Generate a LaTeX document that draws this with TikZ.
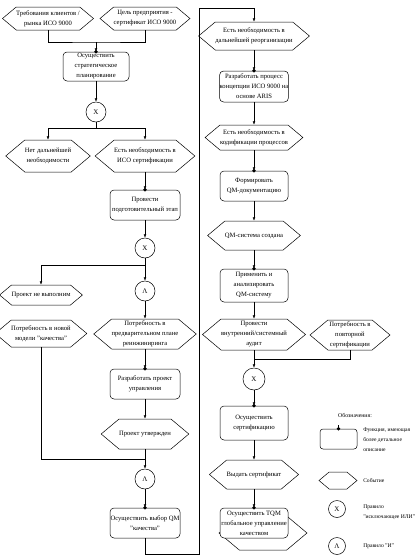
\documentclass[tikz,border=0pt]{standalone}
\usepackage{fontspec}
\setmainfont{Liberation Serif}
\usetikzlibrary{shapes.symbols,arrows.meta}
\begin{document}
\begin{tikzpicture}[x=1pt,y=-1pt,line width=0.5pt,
  every node/.style={font=\fontsize{6.6}{10}\selectfont, align=center, inner sep=0pt},
  func/.style={draw, rounded corners=4pt, fill=white},
  event/.style={draw, signal, signal to=east and west, signal pointer angle=80, fill=white},
  rule/.style={draw, circle, minimum size=20pt, font=\fontsize{7}{8}\selectfont},
  legtext/.style={anchor=west, align=left, font=\fontsize{5.6}{10}\selectfont},
  arr/.style={-{Latex[length=3.5pt,width=2.8pt]}}]
\useasboundingbox (0,0) rectangle (420,560);
% left column
\node[event, minimum width=80pt, minimum height=23pt] (e1) at (48,18.5) {Требования клиентов /\\рынка ИСО 9000};
\node[event, minimum width=82pt, minimum height=23pt] (e2) at (145,18.5) {Цель предприятия -\\сертификат ИСО 9000};
\node[func, minimum width=66pt, minimum height=29pt] (f1) at (96,66.5) {Осуществить\\стратегическое\\планирование};
\node[rule] (x1) at (96,112) {X};
\node[event, minimum width=80pt, minimum height=32pt] (e3) at (48,156) {Нет дальнейшей\\необходимости};
\node[event, minimum width=82pt, minimum height=32pt] (e4) at (145,156) {Есть необходимость в\\ИСО сертификации};
\node[func, minimum width=70pt, minimum height=30pt] (f2) at (145,205) {Провести\\подготовительный этап};
\node[rule] (x2) at (145,248) {X};
\node[event, minimum width=78pt, minimum height=20pt] (e5) at (41,295) {Проект не выполним};
\node[rule] (a1) at (145,291) {Λ};
\node[event, minimum width=78pt, minimum height=27pt] (e6) at (41,333.5) {Потребность в новой\\модели "качества"};
\node[event, minimum width=80pt, minimum height=30pt] (e7) at (145,334) {Потребность в\\предварительном плане\\реинжиниринга};
\node[func, minimum width=70pt, minimum height=30pt] (f3) at (145,384) {Разработать проект\\управления};
\node[event, minimum width=80pt, minimum height=30pt] (e8) at (145,434) {Проект утвержден};
\node[rule] (a2) at (145,479) {Λ};
\node[func, minimum width=70pt, minimum height=30pt] (f4) at (145,523) {Осуществить выбор QM\\"качества"};
% right column
\node[event, minimum width=78pt, minimum height=28pt] (r1) at (254,36) {Есть необходимость в\\дальнейшей реорганизации};
\node[func, minimum width=68pt, minimum height=31pt] (g1) at (254,86.5) {Разработать процесс\\концепции ИСО 9000 на\\основе ARIS};
\node[event, minimum width=78pt, minimum height=25pt] (r2) at (254,137.5) {Есть необходимость в\\кодификации процессов};
\node[func, minimum width=68pt, minimum height=30pt] (g2) at (254,186) {Формировать\\QM-документацию};
\node[event, minimum width=78pt, minimum height=29pt] (r3) at (254,235.5) {QM-система создана};
\node[func, minimum width=68pt, minimum height=33pt] (g3) at (254,285.5) {Применить и\\анализировать\\QM-систему};
\node[event, minimum width=78pt, minimum height=31pt] (r4) at (254,334.5) {Провести\\внутренний/системный\\аудит};
\node[event, minimum width=80pt, minimum height=30pt] (r5) at (350,335) {Потребность в\\повторной\\сертификации};
\node[rule, minimum size=22pt] (xr) at (254,379) {X};
\node[func, minimum width=68pt, minimum height=34pt] (g4) at (254,423) {Осуществить\\сертификацию};
\node[event, minimum width=78pt, minimum height=29pt] (r6) at (254,474.5) {Выдать сертификат};
\node[event, minimum width=88pt, minimum height=34pt] (r7) at (263,533) {};
\node[func, minimum width=68pt, minimum height=30pt] (g5) at (254,523) {Осуществить TQM\\глобальное управление\\качеством};
% legend
\node[font=\fontsize{5.8}{10}\selectfont] (lt) at (355,415) {Обозначения:};
\node[func, minimum width=37pt, minimum height=20pt, rounded corners=3pt] (lf) at (338.5,439) {};
\node[legtext] (ltf) at (363,440) {Функция, имеющая\\более детальное\\описание};
\node[event, minimum width=38pt, minimum height=17pt] (le) at (338,480.5) {};
\node[legtext] (lte) at (363,481) {Событие};
\node[rule, minimum size=17pt] (lx) at (337,509) {X};
\node[legtext] (ltx) at (363,512) {Правило\\"исключающее ИЛИ"};
\node[rule, minimum size=17pt] (la) at (337,546) {Λ};
\node[legtext] (lta) at (363,546) {Правило "И"};
% connectors left
\coordinate (j1) at (96,42);
\draw (e1.south) |- (j1) -| (e2.south);
\draw[arr] (j1) -- (f1.north);
\draw[arr] (f1.south) -- (x1.north);
\coordinate (s1) at (96,128);
\draw (x1.south) -- (s1);
\draw[arr] (s1) -| (e3.north);
\draw[arr] (s1) -| (e4.north);
\draw[arr] (e4.south) -- (f2.north);
\draw[arr] (f2.south) -- (x2.north);
\coordinate (s2) at (145,265);
\draw (x2.south) -- (s2);
\draw[arr] (s2) -| (e5.north);
\draw[arr] (s2) -- (a1.north);
\draw[arr] (a1.south) -- (e7.north);
\draw[arr] (e7.south) -- (f3.north);
\draw[arr] (f3.south) -- (e8.north);
\coordinate (j2) at (145,459);
\draw (e8.south) -- (j2);
\draw (e6.south) |- (j2);
\draw[arr] (j2) -- (a2.north);
\draw[arr] (a2.south) -- (f4.north);
\coordinate (c1) at (145,554);
\coordinate (c2) at (199,554);
\coordinate (c3) at (199,8);
\draw[arr] (f4.south) -- (c1) -- (c2) -- (c3) -| (r1.north);
% connectors right
\draw[arr] (r1.south) -- (g1.north);
\draw[arr] (g1.south) -- (r2.north);
\draw[arr] (r2.south) -- (g2.north);
\draw[arr] (g2.south) -- (r3.north);
\draw[arr] (r3.south) -- (g3.north);
\draw[arr] (g3.south) -- (r4.north);
\coordinate (j3) at (254,359);
\draw (r4.south) -- (j3);
\draw (r5.south) |- (j3);
\draw[arr] (j3) -- (xr.north);
\draw[arr] (xr.south) -- (g4.north);
\draw[arr] (g4.south) -- (r6.north);
\draw[arr] (r6.south) -- (g5.north);
% legend stub
\draw (lf.north) -- ++(0,-4);
\foreach \n in {f1,f2,f3,f4,g1,g2,g3,g4,g5,lf} \fill (\n.north) circle (1.8pt);
\end{tikzpicture}
\end{document}
